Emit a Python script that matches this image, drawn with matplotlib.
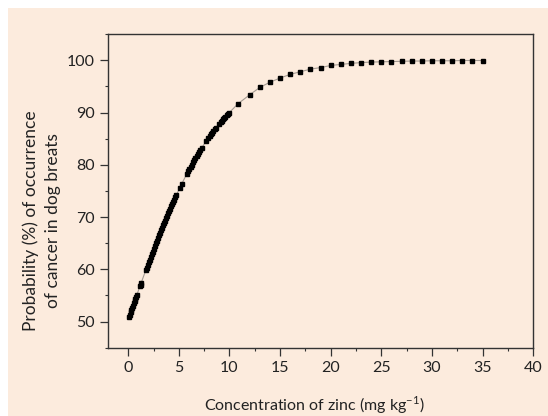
import matplotlib
matplotlib.use('Agg')
import matplotlib.pyplot as plt
from matplotlib.patches import Rectangle
from matplotlib.ticker import MultipleLocator

plt.rcParams['font.family'] = ['Lato', 'DejaVu Sans']

# zinc concentration (mg/kg) and probability (%)
zinc = [0.07, 0.15, 0.23, 0.31, 0.39, 0.47, 0.55, 0.63, 0.71, 0.79, 0.86,
        1.15, 1.22, 1.28,
        1.73, 1.83, 1.93, 2.03, 2.13, 2.23, 2.33, 2.43, 2.53, 2.63,
        2.75, 2.85, 2.95, 3.05, 3.15, 3.25, 3.35, 3.45, 3.55, 3.65,
        3.75, 3.85, 3.95, 4.05, 4.15, 4.25, 4.35, 4.45, 4.55, 4.65, 4.75,
        5.1, 5.3,
        5.80, 5.92, 6.04, 6.16, 6.28, 6.40, 6.52, 6.64, 6.76, 6.88, 7.00, 7.12, 7.24,
        7.7,
        7.90, 8.03, 8.16, 8.29, 8.42, 8.55, 8.68,
        9.00, 9.12, 9.24, 9.36, 9.48, 9.60, 9.72, 9.84, 9.96,
        10.86, 12, 13, 14, 15, 16, 17, 18, 19, 20, 21, 22, 23, 24, 25,
        26, 27, 28, 29, 30, 31, 32, 33, 34, 35]
prob = [50.88, 51.32, 51.75, 52.19, 52.62, 53.06, 53.49, 53.93, 54.36, 54.79, 55.17,
        56.73, 57.10, 57.42,
        59.80, 60.33, 60.84, 61.36, 61.88, 62.39, 62.90, 63.41, 63.91, 64.41,
        65.01, 65.51, 65.99, 66.48, 66.97, 67.45, 67.93, 68.40, 68.86, 69.33,
        69.79, 70.26, 70.71, 71.16, 71.60, 72.04, 72.48, 72.91, 73.34, 73.77, 74.18,
        75.62, 76.41,
        78.32, 78.77, 79.19, 79.62, 80.04, 80.46, 80.87, 81.27, 81.67, 82.05, 82.43, 82.81, 83.18,
        84.54,
        85.10, 85.45, 85.80, 86.14, 86.47, 86.80, 87.13,
        87.89, 88.17, 88.44, 88.70, 88.96, 89.21, 89.46, 89.71, 89.94,
        91.7, 93.4, 94.8, 95.8, 96.6, 97.3, 97.8, 98.3, 98.6, 99.0, 99.2, 99.4, 99.55, 99.65,
        99.7, 99.75, 99.8, 99.85, 99.85, 99.9, 99.9, 99.9, 99.95, 99.95, 99.95]

bg = '#fcebdd'

fig = plt.figure(figsize=(5.48, 4.16), dpi=100, facecolor='white')
# peach panel, leaving a thin white strip at the left and top
fig.patches.append(Rectangle((8 / 548, 0), 1, 1 - 8 / 416, transform=fig.transFigure,
                             facecolor=bg, edgecolor='none', zorder=-10))

ax = fig.add_axes([0.197, 0.164, 0.776, 0.754])
ax.set_facecolor(bg)

ax.plot(zinc, prob, color='#a39a92', lw=0.8, zorder=2)
ax.plot(zinc, prob, ls='none', marker='s', ms=2.7, color='black', zorder=3)

ax.set_xlim(-2, 40)
ax.set_ylim(45, 105)
ax.xaxis.set_major_locator(MultipleLocator(5))
ax.xaxis.set_minor_locator(MultipleLocator(2.5))
ax.yaxis.set_major_locator(MultipleLocator(10))
ax.yaxis.set_minor_locator(MultipleLocator(5))
ax.set_yticks(range(50, 101, 10))

for s in ax.spines.values():
    s.set_color('#333333')
    s.set_linewidth(1)

ax.tick_params(which='major', length=5.5, width=0.9, color='#333333', labelsize=11.5,
               labelcolor='#222222', pad=4)
ax.tick_params(which='minor', length=2.5, width=0.8, color='#333333')

fig.text(0.076, 0.47, 'Probability (%) of occurrence\nof cancer in dog breats',
         rotation=90, ha='center', va='center', fontsize=12.5, color='#222222',
         linespacing=1.4)
fig.text(0.573, 0.027, 'Concentration of zinc (mg kg$^{\\mathregular{-1}}$)',
         ha='center', va='center', fontsize=11.5, color='#222222')

fig.savefig('out.png', dpi=100, facecolor=fig.get_facecolor())
